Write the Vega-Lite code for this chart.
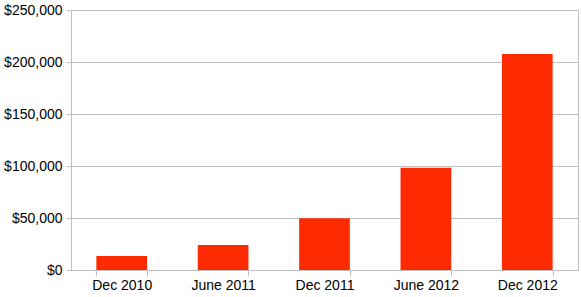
{
  "$schema": "https://vega.github.io/schema/vega-lite/v6.json",
  "width": 507,
  "height": 260,
  "autosize": {"type": "none"},
  "padding": {"left": 71, "top": 10, "right": 3, "bottom": 27},
  "background": "white",
  "config": {
    "view": {"stroke": "#c0c0c0", "strokeWidth": 1},
    "font": "Liberation Sans"
  },
  "data": {
    "values": [
      {"period": "Dec 2010", "value": 13500},
      {"period": "June 2011", "value": 24000},
      {"period": "Dec 2011", "value": 49700},
      {"period": "June 2012", "value": 98400},
      {"period": "Dec 2012", "value": 207700}
    ]
  },
  "mark": {"type": "bar", "color": "#ff2a00"},
  "encoding": {
    "x": {
      "field": "period",
      "type": "ordinal",
      "sort": null,
      "scale": {"paddingInner": 0.5, "paddingOuter": 0.25},
      "axis": {
        "title": null,
        "labelAngle": 0,
        "labelFontSize": 14,
        "labelColor": "#000000",
        "labelFont": "Liberation Sans",
        "labelPadding": 2,
        "tickBand": "extent",
        "tickSize": 6,
        "tickColor": "#c0c0c0",
        "domainColor": "#c0c0c0",
        "grid": false
      }
    },
    "y": {
      "field": "value",
      "type": "quantitative",
      "scale": {"domain": [0, 250000], "nice": false},
      "axis": {
        "title": null,
        "values": [0, 50000, 100000, 150000, 200000, 250000],
        "format": "$,.0f",
        "labelFontSize": 14,
        "labelColor": "#000000",
        "labelFont": "Liberation Sans",
        "labelPadding": 4,
        "tickSize": 5,
        "tickColor": "#c0c0c0",
        "domainColor": "#c0c0c0",
        "gridColor": "#c0c0c0",
        "grid": true
      }
    }
  }
}
